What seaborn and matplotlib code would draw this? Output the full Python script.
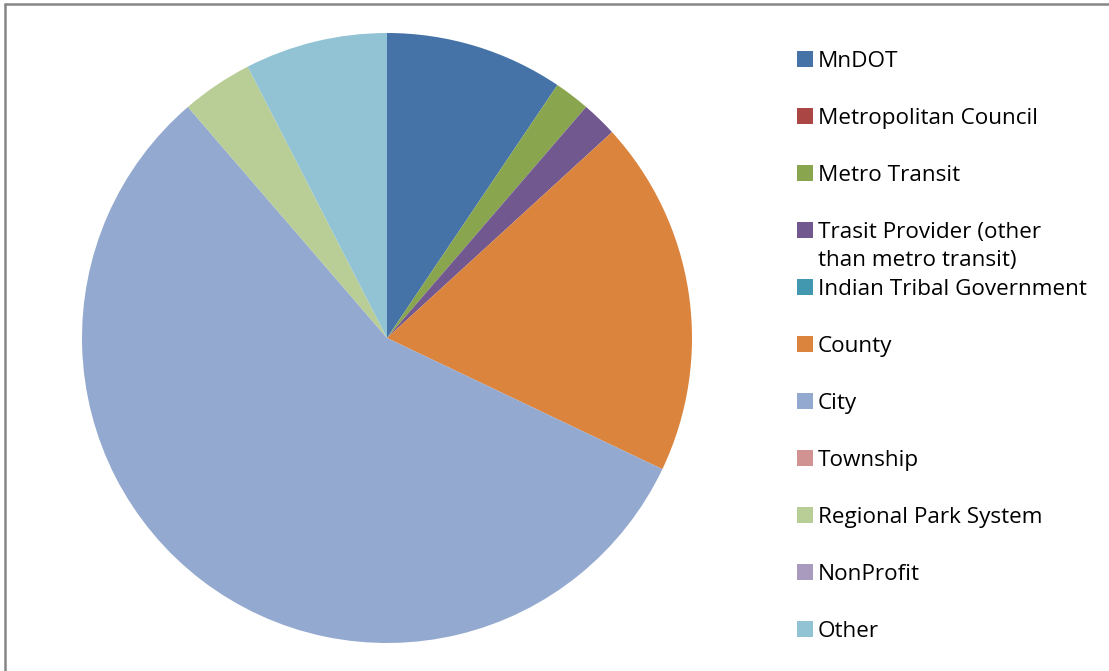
import matplotlib
matplotlib.use('Agg')
import matplotlib.pyplot as plt
import matplotlib.patches as mpatches
import matplotlib.lines as mlines
import seaborn as sns

# agency categories and counts
agencies = ['MnDOT', 'Metropolitan Council', 'Metro Transit',
            'Trasit Provider (other\nthan metro transit)', 'Indian Tribal Government',
            'County', 'City', 'Township', 'Regional Park System', 'NonProfit', 'Other']
counts = [5, 0, 1, 1, 0, 10, 30, 0, 2, 0, 4]
hex_colors = ['#4572A7', '#AA4643', '#89A54E', '#71588F', '#4198AF', '#DB843D',
              '#93A9CF', '#D19392', '#B9CD96', '#A99BBD', '#92C3D4']

sns.set_theme(style='white')
plt.rcParams['font.family'] = ['Open Sans', 'DejaVu Sans']
palette = sns.color_palette(hex_colors)

W, H = 1109, 671
fig = plt.figure(figsize=(W / 100, H / 100), dpi=100)

# pie area: centre (387, 338), radius 305 px
cx, cy, r = 387, 338, 305
ax = fig.add_axes([(cx - r) / W, (H - cy - r) / H, 2 * r / W, 2 * r / H])
ax.pie(counts, colors=palette, startangle=90, counterclock=False, radius=1,
       wedgeprops={'linewidth': 0})
ax.set_xlim(-1, 1)
ax.set_ylim(-1, 1)
ax.set_aspect('equal')
ax.axis('off')

# legend drawn by hand so the two-line label keeps Excel-like spacing
sq = 16
for i, (lab, col) in enumerate(zip(agencies, palette)):
    yc = 59 + 57 * i
    fig.add_artist(mpatches.Rectangle((797 / W, (H - yc - sq / 2) / H), sq / W, sq / H,
                                      transform=fig.transFigure, color=col, lw=0))
    lines = lab.split('\n')
    for j, ln in enumerate(lines):
        fig.text(818 / W, (H - yc - 28 * j) / H, ln, ha='left', va='center_baseline',
                 fontsize=16.2, color='black')

# grey outer frame (top and left edges are visible)
fig.add_artist(mlines.Line2D([5 / W, 1], [1 - 4 / H, 1 - 4 / H], transform=fig.transFigure,
                             color='#868686', lw=1.8))
fig.add_artist(mlines.Line2D([5 / W, 5 / W], [0, 1 - 4 / H], transform=fig.transFigure,
                             color='#868686', lw=1.8))

fig.savefig('out.png', dpi=100)
